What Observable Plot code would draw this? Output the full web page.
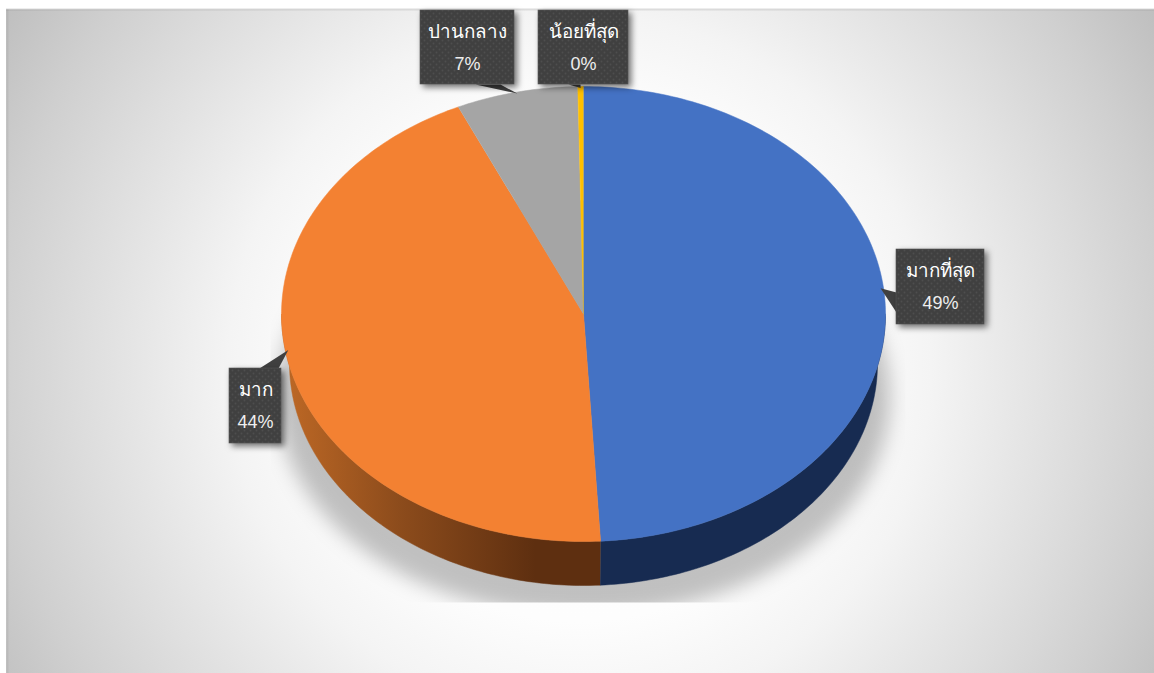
<!DOCTYPE html>
<html lang="th">
<head>
<meta charset="utf-8">
<title>Pie chart</title>
<script src="https://cdn.jsdelivr.net/npm/d3@7"></script>
<script src="https://cdn.jsdelivr.net/npm/@observablehq/plot@0.6"></script>
<style>
  html, body { margin: 0; padding: 0; background: #fff; }
  svg { display: block; }
</style>
</head>
<body>
<div id="chart"></div>
<script>
// Data
const categories = ["มากที่สุด", "มาก", "ปานกลาง", "น้อยที่สุด"];
const values = [49.1, 44.1, 6.5, 0.3];
const percentLabels = ["49%", "44%", "7%", "0%"];

// Styles
const topColors = ["#4472c4", "#f38132", "#a5a5a5", "#ffc000"];
const wallColors = ["#172b51", "url(#orangeWall)", "#636363", "#7f6000"];

// Layout (pixel space of the plot)
const W = 1154, H = 673;
const topFace = {cx: 583, cy: 313.5, rx: 302, ry: 227.5};
const tipFace = {cx: 583, cy: 313.5, rx: 299, ry: 226};
const baseFace = {cx: 583, cy: 363, rx: 294, ry: 222};
const shadowFace = {cx: 583, cy: 396, rx: 306, ry: 220};
const boxes = [
  {x1: 896, x2: 984, y1: 249, y2: 324},
  {x1: 229, x2: 281, y1: 368, y2: 443},
  {x1: 420, x2: 514, y1: 10, y2: 84},
  {x1: 538, x2: 628, y1: 10, y2: 84}
];
const leaderShift = [-4.9, 4.7, 0, 0]; // degrees from slice mid-angle
const leaderBase = [
  [[896, 292], [896, 312]],
  [[259, 368], [278, 368]],
  [[475, 84], [500, 84]],
  [[568, 84], [580, 84]]
];

// Geometry from the values
const arcs = d3.pie().sort(null)(values);
const pt = (f, a) => ({x: f.cx + f.rx * Math.sin(a), y: f.cy - f.ry * Math.cos(a)});
const sweep = (f, a0, a1) => {
  const n = Math.max(2, Math.ceil(Math.abs(a1 - a0) / (Math.PI / 180)));
  return d3.range(n + 1).map(i => pt(f, a0 + (a1 - a0) * i / n));
};
const sliceShape = (f, a) => [{x: f.cx, y: f.cy}, ...sweep(f, a.startAngle, a.endAngle)];
const wallShape = (a) => {
  const a0 = Math.max(a.startAngle, Math.PI / 2);
  const a1 = Math.min(a.endAngle, 3 * Math.PI / 2);
  if (a1 <= a0) return null;
  return [...sweep(topFace, a0, a1), ...sweep(baseFace, a1, a0)];
};
const shadowShape = sweep(shadowFace, 0, 2 * Math.PI);

const tips = arcs.map((a, i) => pt(tipFace, (a.startAngle + a.endAngle) / 2 + leaderShift[i] * Math.PI / 180));
const leaders = tips.map((t, i) => [t, {x: leaderBase[i][0][0], y: leaderBase[i][0][1]}, {x: leaderBase[i][1][0], y: leaderBase[i][1][1]}]);

const labels = categories.map((c, i) => ({
  name: c,
  pct: percentLabels[i],
  x: (boxes[i].x1 + boxes[i].x2) / 2,
  yName: boxes[i].y1 + 21,
  yPct: boxes[i].y1 + 54
}));

const fontFamily = '"Liberation Sans", Arial, "Noto Sans", "DejaVu Sans", sans-serif';
const clipToShadowBox = (index, scales, values, dims, ctx, next) => {
  const g = next(index, scales, values, dims, ctx);
  g.setAttribute("clip-path", "url(#shadowClip)");
  return g;
};

const plot = Plot.plot({
  width: W,
  height: H,
  margin: 0,
  style: {background: "#fff", fontFamily},
  x: {domain: [0, W], range: [0, W], axis: null},
  y: {domain: [0, H], range: [0, H], axis: null},
  marks: [
    // background panel and its top/left edge
    Plot.rect([{x1: 6, x2: W, y1: 9, y2: H}], {x1: "x1", x2: "x2", y1: "y1", y2: "y2", fill: "url(#panel)"}),
    Plot.ruleY([8.5], {x1: 6, x2: W, stroke: "#dadada", strokeWidth: 1}),
    Plot.ruleY([9.5], {x1: 6, x2: W, stroke: "rgba(0,0,0,0.09)", strokeWidth: 1}),
    Plot.ruleX([7], {y1: 9, y2: H, stroke: "rgba(0,0,0,0.05)", strokeWidth: 2}),

    // soft shadow
    Plot.line(shadowShape, {x: "x", y: "y", fill: "rgba(0,0,0,0.24)", stroke: "none", imageFilter: "blur(10px)", render: clipToShadowBox}),

    // side walls
    ...arcs.map((a, i) => {
      const w = wallShape(a);
      return w ? Plot.line(w, {x: "x", y: "y", fill: wallColors[i], stroke: wallColors[i], strokeWidth: 0.5}) : null;
    }),

    // top faces
    ...arcs.map((a, i) => Plot.line(sliceShape(topFace, a), {x: "x", y: "y", fill: topColors[i], stroke: topColors[i], strokeWidth: 0.5})),

    // callouts
    ...leaders.map(l => Plot.line(l, {x: "x", y: "y", fill: "#404040", stroke: "none"})),
    Plot.rect(boxes, {x1: "x1", x2: "x2", y1: "y1", y2: "y2", fill: "url(#dots)", stroke: "#565656", strokeWidth: 0.6, imageFilter: "drop-shadow(3px 3px 3px rgba(0,0,0,0.55))"}),
    Plot.text(labels, {x: "x", y: "yName", text: "name", fill: "#ffffff", fontSize: 18.8}),
    Plot.text(labels, {x: "x", y: "yPct", text: "pct", fill: "#eeeeee", fontSize: 18})
  ].filter(Boolean)
});

// Paint servers used by the marks
const defs = d3.create("svg:defs");
const panel = defs.append("radialGradient").attr("id", "panel").attr("gradientUnits", "userSpaceOnUse")
  .attr("cx", 580).attr("cy", 365).attr("r", 675);
[[0, "#ffffff"], [0.38, "#fdfdfd"], [0.52, "#f4f4f4"], [0.75, "#dcdcdc"], [0.87, "#cfcfcf"], [1, "#bfbfbf"]]
  .forEach(([o, c]) => panel.append("stop").attr("offset", o).attr("stop-color", c));
const wall = defs.append("linearGradient").attr("id", "orangeWall").attr("gradientUnits", "userSpaceOnUse")
  .attr("x1", 285).attr("x2", 535).attr("y1", 0).attr("y2", 0);
[[0, "#bd6825"], [0.45, "#8d4c1c"], [1, "#5e2f10"]]
  .forEach(([o, c]) => wall.append("stop").attr("offset", o).attr("stop-color", c));
const dots = defs.append("pattern").attr("id", "dots").attr("patternUnits", "userSpaceOnUse")
  .attr("width", 6).attr("height", 6);
dots.append("rect").attr("width", 6).attr("height", 6).attr("fill", "#404040");
[[1.5, 1.5], [4.5, 4.5]].forEach(([x, y]) => dots.append("circle").attr("cx", x).attr("cy", y).attr("r", 0.9).attr("fill", "#4e4e4e"));
defs.append("clipPath").attr("id", "shadowClip").append("rect")
  .attr("x", 270).attr("y", 200).attr("width", 635).attr("height", 402);
plot.insertBefore(defs.node(), plot.firstChild);

document.getElementById("chart").appendChild(plot);
</script>
</body>
</html>
